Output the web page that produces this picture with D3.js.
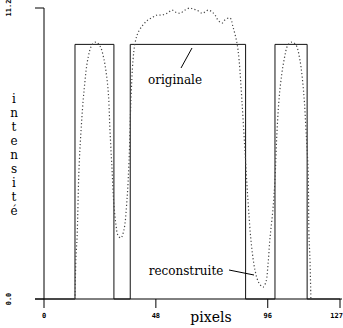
<html>
<head>
  <script src="https://cdnjs.cloudflare.com/ajax/libs/d3/7.8.5/d3.min.js"></script>
  <style>body{margin:0;background:#fff;}</style>
</head>
<body>
  <script>
    const width = 343, height = 328;

    // tick labels
    const xTicks = [0, 48, 96, 127];
    const yTicks = [0, 11.2];
    const yTickLabels = ["0.0", "11.2"];

    // original signal (solid)
    const origX = [0, 13.3, 13.3, 30, 30, 37, 37, 86.5, 86.5, 99.1, 99.1, 112.9, 112.9, 127];
    const origY = [0, 0, 9.8, 9.8, 0, 0, 9.8, 9.8, 0, 0, 9.8, 9.8, 0, 0];

    // reconstructed signal (dotted)
    const recX = [13.3, 13.7, 14.2, 15.0, 15.9, 17.2, 18.9, 20.6, 22.3, 24.0, 25.7, 27.5, 28.3, 29.2, 30.0,
      30.9, 31.7, 33.0, 34.3, 35.6, 36.5, 37.3, 38.2, 39.0, 40.3, 42.5, 44.6, 46.8, 48.5, 50.6, 52.8,
      55.0, 56.2, 58.3, 60.5, 62.6, 63.9, 65.6, 67.8, 69.1, 70.4, 72.1, 73.4, 74.6, 76.4, 77.6, 79.8,
      81.1, 82.8, 83.7, 84.9, 86.2, 87.5, 88.8, 90.5, 92.2, 94.0, 95.2, 96.1, 96.9, 98.2, 99.1, 100.0,
      101.2, 103.0, 104.7, 106.4, 108.1, 109.8, 111.5, 112.4, 113.3, 113.7, 114.1, 114.5];
    const recY = [0, 1.58, 2.39, 4.97, 6.5, 8.04, 9.28, 9.78, 9.89, 9.74, 9.24, 8.04, 6.5, 4.97, 3.62,
      2.85, 2.46, 2.35, 2.66, 3.81, 5.35, 7.66, 9.2, 9.82, 10.24, 10.55, 10.74, 10.85, 10.93, 10.93, 11.0,
      11.12, 11.05, 11.0, 11.12, 11.2, 11.16, 11.12, 11.0, 11.05, 11.12, 11.05, 10.93, 10.74, 10.62, 10.74, 10.82,
      10.47, 9.85, 9.2, 7.66, 5.74, 3.81, 2.27, 1.12, 0.62, 0.46, 0.65, 1.31, 2.27, 3.43, 4.59, 6.5,
      8.04, 9.2, 9.78, 9.89, 9.78, 9.2, 7.85, 6.5, 4.97, 2.39, 1.58, 0];

    const x = d3.scaleLinear().domain([0, 127]).range([44, 340]);
    const y = d3.scaleLinear().domain([0, 11.2]).range([299, 8]);

    const svg = d3.select("body").append("svg")
      .attr("width", width)
      .attr("height", height);

    // axes
    svg.append("line").attr("x1", 35).attr("x2", 342).attr("y1", y(0)).attr("y2", y(0))
      .attr("stroke", "#000");
    svg.append("line").attr("x1", x(0)).attr("x2", x(0)).attr("y1", y(11.2)).attr("y2", y(0))
      .attr("stroke", "#000");

    svg.selectAll(".xt").data(xTicks).enter().append("line")
      .attr("x1", d => x(d)).attr("x2", d => x(d))
      .attr("y1", y(0)).attr("y2", y(0) + 9)
      .attr("stroke", "#000");
    svg.selectAll(".xl").data(xTicks).enter().append("text")
      .attr("x", (d, i) => i === xTicks.length - 1 ? 343 : x(d)).attr("y", 318)
      .attr("text-anchor", (d, i) => i === xTicks.length - 1 ? "end" : "middle")
      .attr("font-family", "DejaVu Sans Mono").attr("font-weight", "bold").attr("font-size", 7)
      .text(d => d);

    svg.selectAll(".yt").data(yTicks).enter().append("line")
      .attr("x1", 35).attr("x2", x(0))
      .attr("y1", d => y(d)).attr("y2", d => y(d))
      .attr("stroke", "#000");
    svg.selectAll(".yl").data(yTicks).enter().append("text")
      .attr("transform", d => `translate(11,${y(d)}) rotate(-90)`)
      .attr("text-anchor", "middle")
      .attr("font-family", "DejaVu Sans Mono").attr("font-weight", "bold").attr("font-size", 7)
      .text((d, i) => yTickLabels[i]);

    const line = d3.line().x(d => x(d[0])).y(d => y(d[1]));

    svg.append("path")
      .attr("d", line(d3.zip(origX, origY)))
      .attr("fill", "none").attr("stroke", "#111").attr("stroke-width", 1);

    svg.append("path")
      .attr("d", d3.line().curve(d3.curveCatmullRom).x(d => x(d[0])).y(d => y(d[1]))(d3.zip(recX, recY)))
      .attr("fill", "none").attr("stroke", "#444").attr("stroke-width", 1.2)
      .attr("stroke-dasharray", "1.2,2.3");

    // labels
    const serif = "DejaVu Serif";
    svg.append("text").attr("x", 175).attr("y", 84).attr("text-anchor", "middle")
      .attr("font-family", serif).attr("font-size", 12).text("originale");
    svg.append("line").attr("x1", 181).attr("y1", 68).attr("x2", 192).attr("y2", 48)
      .attr("stroke", "#000");

    svg.append("text").attr("x", 186).attr("y", 275).attr("text-anchor", "middle")
      .attr("font-family", serif).attr("font-size", 12).text("reconstruite");
    svg.append("line").attr("x1", 229).attr("y1", 270).attr("x2", 254).attr("y2", 275)
      .attr("stroke", "#000");

    svg.append("text").attr("x", 211).attr("y", 322).attr("text-anchor", "middle")
      .attr("font-family", serif).attr("font-size", 14).text("pixels");

    const yLabel = "intensité".split("");
    svg.selectAll(".yc").data(yLabel).enter().append("text")
      .attr("x", 14).attr("y", (d, i) => 103 + i * 14)
      .attr("text-anchor", "middle")
      .attr("font-family", serif).attr("font-size", 12)
      .text(d => d);
  </script>
</body>
</html>
